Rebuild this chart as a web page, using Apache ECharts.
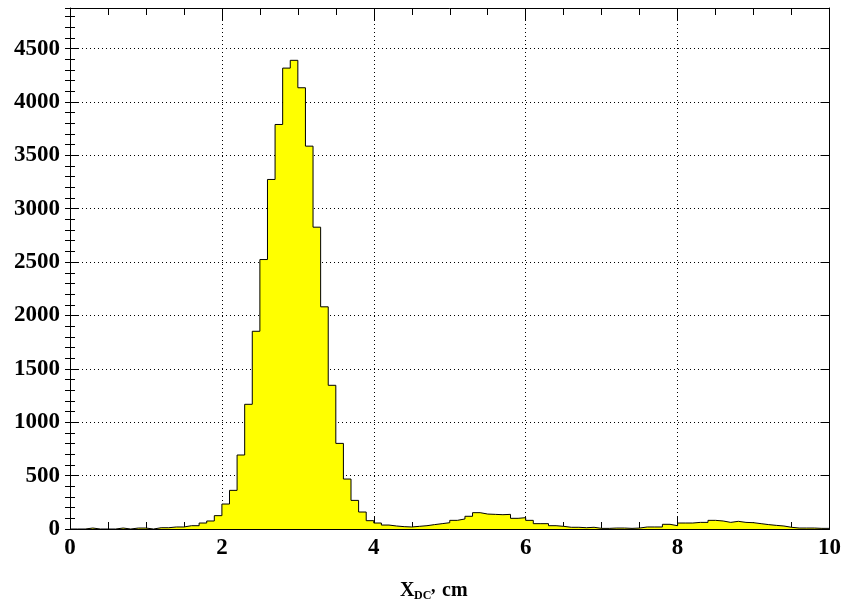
<!DOCTYPE html>
<html>
<head>
<meta charset="utf-8">
<script src="https://cdn.jsdelivr.net/npm/echarts@6/dist/echarts.min.js"></script>
<style>
  html, body { margin: 0; padding: 0; background: #ffffff; }
  #chart { width: 844px; height: 616px; }
</style>
</head>
<body>
<div id="chart"></div>
<script>
// Histogram of X_DC (cm), 100 bins of width 0.1 from 0 to 10
const binStart = 0;
const binWidth = 0.1;
const counts = [
  0, 0, 9, 0, 0, 0, 9, 0, 9, 9,
  0, 12, 12, 19, 19, 31, 31, 56, 75, 125,
  234, 362, 693, 1168, 1852, 2524, 3274, 3789, 4317, 4390,
  4133, 3586, 2827, 2081, 1346, 802, 468, 268, 159, 78,
  56, 37, 28, 22, 19, 25, 31, 41, 50, 59,
  81, 94, 119, 153, 140, 137, 134, 137, 100, 106,
  81, 50, 50, 31, 25, 16, 16, 12, 16, 6,
  6, 9, 9, 6, 9, 19, 19, 19, 44, 31,
  56, 56, 62, 62, 81, 75, 62, 72, 62, 59,
  50, 41, 34, 28, 16, 9, 9, 9, 6, 6
];
const xTickLabels = ['0', '2', '4', '6', '8', '10'];
const yTickLabels = ['0', '500', '1000', '1500', '2000', '2500', '3000', '3500', '4000', '4500'];

const stepData = counts.map((v, i) => [+(binStart + i * binWidth).toFixed(2), v]);
stepData.push([+(binStart + counts.length * binWidth).toFixed(2), counts[counts.length - 1]]);

const FONT = 'Liberation Serif';
const black = '#000000';

const chart = echarts.init(document.getElementById('chart'), null, { renderer: 'canvas' });

function baseX(pos, show) {
  return {
    type: 'value', position: pos, min: 0, max: 10, interval: 2,
    axisLine: { show: true, onZero: false, lineStyle: { color: black, width: 1 } },
    axisTick: { show: true, inside: true, length: 12, lineStyle: { color: black } },
    minorTick: { show: true, splitNumber: 4, length: 7, lineStyle: { color: black } },
    splitLine: { show: show, lineStyle: { color: black, type: [1, 3], width: 1 } },
    axisLabel: {
      show: show, margin: 8, color: black, fontFamily: FONT, fontWeight: 'bold', fontSize: 23,
      formatter: v => xTickLabels.includes(String(v)) ? String(v) : ''
    }
  };
}
function majorY(pos, show) {
  return {
    type: 'value', position: pos, min: 0, max: 4880, interval: 500,
    axisLine: { show: true, onZero: false, lineStyle: { color: black, width: 1 } },
    axisTick: { show: true, inside: true, length: 9, lineStyle: { color: black } },
    splitLine: { show: show, lineStyle: { color: black, type: [1, 3], width: 1 } },
    axisLabel: {
      show: show, margin: 10, color: black, fontFamily: FONT, fontWeight: 'bold', fontSize: 23,
      showMaxLabel: false,
      formatter: v => yTickLabels.includes(String(v)) ? String(v) : ''
    }
  };
}
function minorY(pos) {
  return {
    type: 'value', position: pos, min: 0, max: 4880, interval: 100,
    axisLine: { show: false },
    axisTick: { show: true, inside: true, length: 5, lineStyle: { color: black } },
    splitLine: { show: false },
    axisLabel: { show: false }
  };
}

const option = {
  backgroundColor: '#ffffff',
  animation: false,
  grid: { left: 70, right: 11, top: 8, bottom: 87, containLabel: false },
  xAxis: [baseX('bottom', true), baseX('top', false)],
  yAxis: [majorY('left', true), majorY('right', false), minorY('left'), minorY('right')],
  series: [{
    type: 'line',
    xAxisIndex: 0, yAxisIndex: 0,
    step: 'end',
    data: stepData,
    symbol: 'none',
    lineStyle: { color: black, width: 1 },
    areaStyle: { color: '#ffff00', opacity: 1 },
    z: 1
  }],
  graphic: [{
    type: 'group', left: 400, top: 578,
    children: [
      { type: 'text', x: 0, y: 0, style: { text: 'X', font: 'bold 20px "Liberation Serif"', fill: black } },
      { type: 'text', x: 14, y: 9, style: { text: 'DC', font: 'bold 12px "Liberation Serif"', fill: black } },
      { type: 'text', x: 31, y: -3, style: { text: ',', font: 'bold 18px "Liberation Serif"', fill: black } },
      { type: 'text', x: 42, y: 0, style: { text: 'cm', font: 'bold 20px "Liberation Serif"', fill: black } }
    ]
  }]
};
chart.setOption(option);
</script>
</body>
</html>
